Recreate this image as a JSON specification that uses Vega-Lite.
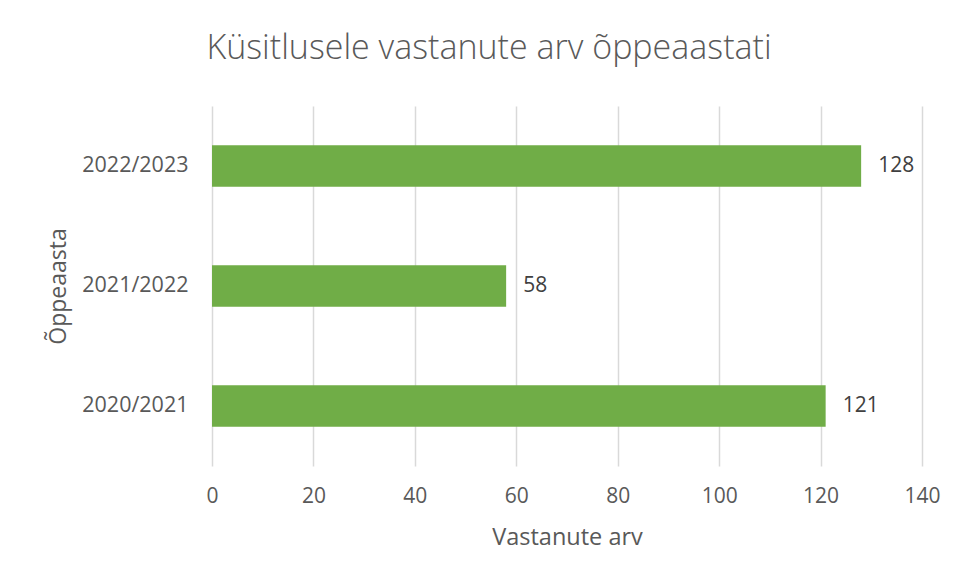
{
  "$schema": "https://vega.github.io/schema/vega-lite/v6.json",
  "width": 710,
  "height": 360,
  "autosize": {"type": "none"},
  "padding": {"left": 212, "top": 106, "right": 34, "bottom": 115},
  "background": "white",
  "config": {
    "view": {"stroke": null},
    "font": "Open Sans"
  },
  "title": {
    "text": "Küsitlusele vastanute arv õppeaastati",
    "font": "Open Sans",
    "fontSize": 34,
    "fontWeight": 300,
    "color": "#595959",
    "anchor": "middle",
    "baseline": "alphabetic",
    "offset": 13,
    "dx": -78
  },
  "data": {
    "values": [
      {"oppeaasta": "2020/2021", "vastanute_arv": 121},
      {"oppeaasta": "2021/2022", "vastanute_arv": 58},
      {"oppeaasta": "2022/2023", "vastanute_arv": 128}
    ]
  },
  "encoding": {
    "y": {
      "field": "oppeaasta",
      "type": "nominal",
      "sort": ["2022/2023", "2021/2022", "2020/2021"],
      "scale": {"paddingInner": 0.656, "paddingOuter": 0.328},
      "axis": {
        "title": "Õppeaasta",
        "titleFont": "Open Sans",
        "titleFontSize": 23,
        "titleFontWeight": "normal",
        "titleColor": "#595959",
        "titleAngle": -90,
        "titleX": -154,
        "titleY": 180,
        "titleAlign": "center",
        "titleBaseline": "middle",
        "labelFont": "Open Sans",
        "labelFontSize": 21.5,
        "labelColor": "#595959",
        "labelPadding": 24,
        "ticks": false,
        "domain": false,
        "grid": false
      }
    },
    "x": {
      "field": "vastanute_arv",
      "type": "quantitative",
      "scale": {"domain": [0, 140], "nice": false},
      "axis": {
        "title": "Vastanute arv",
        "titleFont": "Open Sans",
        "titleFontSize": 23.5,
        "titleFontWeight": "normal",
        "titleColor": "#595959",
        "titleX": 355,
        "titleY": 78,
        "titleBaseline": "alphabetic",
        "titleAlign": "center",
        "values": [0, 20, 40, 60, 80, 100, 120, 140],
        "labelFont": "Open Sans",
        "labelFontSize": 21,
        "labelColor": "#595959",
        "labelPadding": 19,
        "labelFlush": false,
        "ticks": false,
        "domain": false,
        "grid": true,
        "gridColor": "#d9d9d9",
        "gridWidth": 1.5
      }
    }
  },
  "layer": [
    {"mark": {"type": "bar", "color": "#70AD47"}},
    {
      "mark": {"type": "text", "align": "left", "baseline": "middle", "dx": 17, "fontSize": 21, "font": "Open Sans", "color": "#404040"},
      "encoding": {"text": {"field": "vastanute_arv", "type": "quantitative"}}
    }
  ]
}
